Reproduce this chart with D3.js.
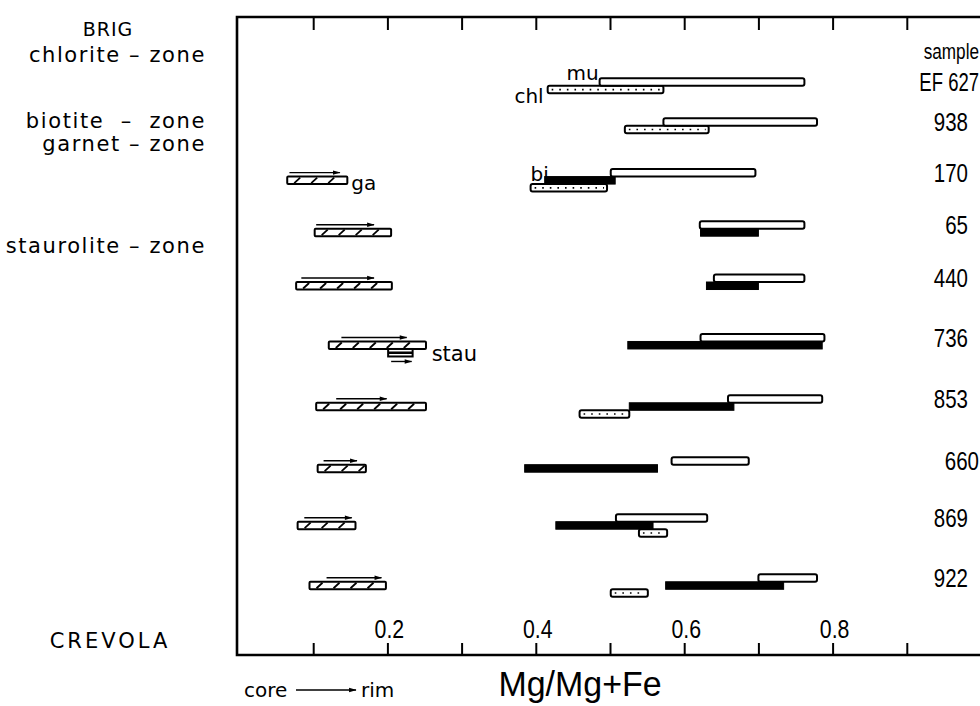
<!DOCTYPE html>
<html><head><meta charset="utf-8">
<script src="https://cdn.jsdelivr.net/npm/d3@7/dist/d3.min.js"></script>
<style>body{margin:0;background:#fff}svg{display:block}</style>
</head><body>
<svg id="chart" width="980" height="706"></svg>
<script>
// ---------------- data (Mg/(Mg+Fe) ranges, core -> rim) ----------------
const samples = ["EF627", "938", "170", "65", "440", "736", "853", "660", "869", "922"];
const sampleLabels = ["EF 627", "938", "170", "65", "440", "736", "853", "660", "869", "922"];
// relative position of each sample along the Brig (0) – Crevola (100) section
const sectionPos = [8.5, 15.0, 23.3, 31.8, 40.5, 50.2, 60.2, 70.3, 79.6, 89.4];
const muscovite = [[0.486,0.762],[0.572,0.779],[0.501,0.696],[0.621,0.762],[0.640,0.762],[0.622,0.789],[0.659,0.786],[0.583,0.687],[0.508,0.631],[0.700,0.779]];
const biotite   = [null,null,[0.412,0.507],[0.622,0.700],[0.630,0.700],[0.524,0.786],[0.526,0.667],[0.385,0.564],[0.427,0.558],[0.575,0.734]];
const chlorite  = [[0.416,0.572],[0.520,0.633],[0.393,0.496],null,null,null,[0.459,0.526],null,[0.539,0.577],[0.501,0.551]];
const garnet    = [null,null,[0.065,0.146],[0.102,0.205],[0.077,0.206],[0.121,0.252],[0.104,0.252],[0.106,0.171],[0.079,0.157],[0.095,0.198]];
const garnetTrend = [null,null,[0.068,0.136],[0.104,0.182],[0.084,0.182],[0.138,0.226],[0.131,0.199],[0.114,0.159],[0.088,0.152],[0.118,0.192]];
const staurolite = {sample: "736", range: [0.201, 0.234]};
const zoneLabels = ["chlorite – zone", "biotite  –  zone", "garnet – zone", "staurolite – zone"];
const xTicks = [0.1,0.2,0.3,0.4,0.5,0.6,0.7,0.8,0.9];
const xTickLabels = [0.2,0.4,0.6,0.8];

// ---------------- layout ----------------
const svg = d3.select("#chart");
const frameLeft = 237, frameTop = 17, frameBottom = 655;
const x = d3.scaleLinear().domain([0, 1]).range([239, 981]);
const y = d3.scaleLinear().domain([0, 100]).range([30, 643]);
const rowY = s => y(sectionPos[samples.indexOf(s)]);   // centre of the muscovite bar
const barH = 7.5, sw = 2;
const levelTop = (s, lvl) => rowY(s) - barH / 2 + lvl * barH;
const sans = "'Liberation Sans',Arial,sans-serif";
const wide = "'DejaVu Sans',Verdana,sans-serif";

svg.append("defs").append("marker")
  .attr("id","ah").attr("viewBox","0 0 12 10").attr("refX",11).attr("refY",5)
  .attr("markerWidth",6).attr("markerHeight",4.5).attr("orient","auto")
  .attr("markerUnits","strokeWidth")
  .append("path").attr("d","M0,1.5 L12,5 L0,8.5 Z").attr("fill","#000");

// condensed text helper
function narrowText(g, txt, xx, yy, size, anchor, sx) {
  return g.append("text").attr("transform", `translate(${xx},${yy}) scale(${sx || 0.82},1)`)
    .attr("text-anchor", anchor || "start").attr("font-family", sans).attr("font-size", size).text(txt);
}

// frame
svg.append("path")
  .attr("d", `M990,${frameTop} H${frameLeft} V${frameBottom} H990`)
  .attr("fill","none").attr("stroke","#000").attr("stroke-width",2.6);

// axes (ticks only, pointing inward)
const gt = svg.append("g").attr("transform",`translate(0,${frameTop})`)
  .call(d3.axisBottom(x).tickValues(xTicks).tickSize(13).tickFormat(""));
const gb = svg.append("g").attr("transform",`translate(0,${frameBottom})`)
  .call(d3.axisTop(x).tickValues(xTicks).tickSize(12).tickFormat(""));
[gt, gb].forEach(g => {
  g.select(".domain").remove();
  g.selectAll(".tick line").attr("stroke","#000").attr("stroke-width",2);
});
const gtl = svg.append("g");
xTickLabels.forEach(d => narrowText(gtl, d.toFixed(1), x(d) + 2, 638, 26, "middle"));

// rows
const rows = samples.map((s,i) => ({s, i}));

function openBar(g, s, r, lvl) {
  return g.append("rect")
    .attr("x", x(r[0])).attr("y", levelTop(s,lvl))
    .attr("width", x(r[1]) - x(r[0])).attr("height", barH)
    .attr("rx", 2).attr("fill","#fff").attr("stroke","#000").attr("stroke-width",sw);
}

const gBars = svg.append("g");
rows.forEach(({s,i}) => {
  const g = gBars.append("g");
  if (chlorite[i]) {
    const lvl = biotite[i] ? 2 : 1;
    openBar(g, s, chlorite[i], lvl);
    g.append("line")
      .attr("x1", x(chlorite[i][0]) + 4).attr("x2", x(chlorite[i][1]) - 3)
      .attr("y1", levelTop(s,lvl) + barH/2).attr("y2", levelTop(s,lvl) + barH/2)
      .attr("stroke","#000").attr("stroke-width",1.6).attr("stroke-dasharray","1.6 6");
  }
  if (biotite[i]) {
    g.append("rect")
      .attr("x", x(biotite[i][0])).attr("y", levelTop(s,1))
      .attr("width", x(biotite[i][1]) - x(biotite[i][0])).attr("height", barH)
      .attr("fill","#000").attr("stroke","#000").attr("stroke-width",1);
  }
  openBar(g, s, muscovite[i], 0);
  if (garnet[i]) {
    const t = levelTop(s,1), x0 = x(garnet[i][0]), x1 = x(garnet[i][1]);
    openBar(g, s, garnet[i], 1).attr("rx",1);
    g.selectAll(null).data(d3.range(x0 + 10, x1 - 3, 17)).join("line")
      .attr("x1", d => d - 3).attr("x2", d => d + 3)
      .attr("y1", t + barH - 1).attr("y2", t + 1)
      .attr("stroke","#000").attr("stroke-width",1.8);
    g.append("line")
      .attr("x1", x(garnetTrend[i][0])).attr("x2", x(garnetTrend[i][1]))
      .attr("y1", t - 4).attr("y2", t - 4)
      .attr("stroke","#000").attr("stroke-width",1.4).attr("marker-end","url(#ah)");
  }
});

// staurolite symbol (row 736)
{
  const s = staurolite.sample, r = staurolite.range;
  const t = levelTop(s,2);
  const g = gBars.append("g");
  g.append("rect").attr("x", x(r[0])).attr("y", t).attr("width", x(r[1]) - x(r[0])).attr("height", barH)
    .attr("fill","#fff").attr("stroke","#000").attr("stroke-width",sw);
  g.append("line").attr("x1", x(r[0])).attr("x2", x(r[1])).attr("y1", t + barH/2).attr("y2", t + barH/2)
    .attr("stroke","#000").attr("stroke-width",2.5);
  g.append("line").attr("x1", x(r[0]) + 3).attr("x2", x(r[1]) - 1)
    .attr("y1", t + barH + 5).attr("y2", t + barH + 5)
    .attr("stroke","#000").attr("stroke-width",1.4).attr("marker-end","url(#ah)");
  g.append("text").attr("x", x(r[1]) + 19).attr("y", t + barH + 5)
    .attr("font-family",wide).attr("font-size",21).text("stau");
}

// mineral labels
const lab = (txt, xv, yy, anchor) => svg.append("text").attr("x", xv).attr("y", yy)
  .attr("text-anchor", anchor || "start").attr("font-family", wide).attr("font-size",20).text(txt);
lab("mu", x(muscovite[0][0]) - 1, levelTop("EF627",0) + 2, "end");
lab("chl", x(chlorite[0][0]) - 4, levelTop("EF627",1) + 17, "end");
lab("bi", x(biotite[2][0]) + 4, levelTop("170",1) + 4, "end");
lab("ga", x(garnet[2][1]) + 4, levelTop("170",1) + 13);

// sample labels
const gs = svg.append("g");
narrowText(gs, "sample", 979, 59, 22, "end", 0.78);
rows.forEach(d => {
  const xe = (d.s === "660" || d.s === "EF627") ? 979 : 968;
  narrowText(gs, sampleLabels[d.i], xe, rowY(d.s) + 9, 25, "end", d.s === "EF627" ? 0.74 : 0.82);
});

// zone / locality labels
const zoneY = [62, 128, 151, 253];
svg.append("g").selectAll("text").data(zoneLabels).join("text")
  .attr("x", 206).attr("y", (d,i) => zoneY[i]).attr("text-anchor","end")
  .attr("font-family",wide).attr("font-size",21).attr("letter-spacing",1.6)
  .style("white-space","pre").text(d => d);
svg.append("text").attr("x", 108).attr("y", 36).attr("text-anchor","middle")
  .attr("font-family",wide).attr("font-size",19).attr("letter-spacing",1).text("BRIG");
svg.append("text").attr("x", 110).attr("y", 648).attr("text-anchor","middle")
  .attr("font-family",wide).attr("font-size",21).attr("letter-spacing",3).text("CREVOLA");

// bottom captions
svg.append("text").attr("x", 244).attr("y", 697).attr("font-family",wide).attr("font-size",20).text("core");
svg.append("line").attr("x1", 296).attr("x2", 356).attr("y1", 690).attr("y2", 690)
  .attr("stroke","#000").attr("stroke-width",1.4).attr("marker-end","url(#ah)");
svg.append("text").attr("x", 361).attr("y", 697).attr("font-family",wide).attr("font-size",20).text("rim");
narrowText(svg, "Mg/Mg+Fe", 580, 696, 35, "middle", 0.97);
</script>
</body></html>
